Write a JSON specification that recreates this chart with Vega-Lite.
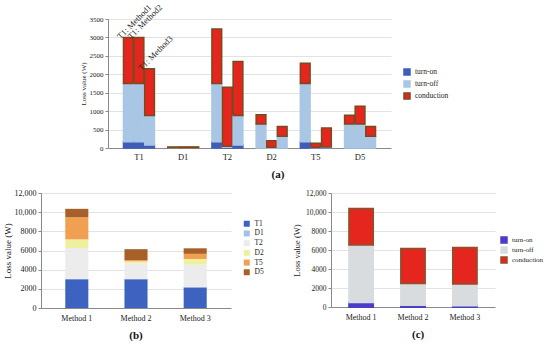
{
  "$schema": "https://vega.github.io/schema/vega-lite/v6.json",
  "padding": {"left": 3, "top": 3, "right": 0, "bottom": 0},
  "datasets": {
    "loss": [
      {"component": "T1", "method": "Method 1", "type": "turn-on", "value": 170},
      {"component": "T1", "method": "Method 1", "type": "turn-off", "value": 1580},
      {"component": "T1", "method": "Method 1", "type": "conduction", "value": 1250},
      {"component": "T1", "method": "Method 2", "type": "turn-on", "value": 170},
      {"component": "T1", "method": "Method 2", "type": "turn-off", "value": 1580},
      {"component": "T1", "method": "Method 2", "type": "conduction", "value": 1250},
      {"component": "T1", "method": "Method 3", "type": "turn-on", "value": 80},
      {"component": "T1", "method": "Method 3", "type": "turn-off", "value": 800},
      {"component": "T1", "method": "Method 3", "type": "conduction", "value": 1270},
      {"component": "D1", "method": "Method 1", "type": "turn-off", "value": 5},
      {"component": "D1", "method": "Method 1", "type": "conduction", "value": 25},
      {"component": "D1", "method": "Method 2", "type": "turn-off", "value": 5},
      {"component": "D1", "method": "Method 2", "type": "conduction", "value": 25},
      {"component": "D1", "method": "Method 3", "type": "turn-off", "value": 5},
      {"component": "D1", "method": "Method 3", "type": "conduction", "value": 25},
      {"component": "T2", "method": "Method 1", "type": "turn-on", "value": 170},
      {"component": "T2", "method": "Method 1", "type": "turn-off", "value": 1580},
      {"component": "T2", "method": "Method 1", "type": "conduction", "value": 1480},
      {"component": "T2", "method": "Method 2", "type": "turn-on", "value": 20},
      {"component": "T2", "method": "Method 2", "type": "turn-off", "value": 30},
      {"component": "T2", "method": "Method 2", "type": "conduction", "value": 1600},
      {"component": "T2", "method": "Method 3", "type": "turn-on", "value": 80},
      {"component": "T2", "method": "Method 3", "type": "turn-off", "value": 800},
      {"component": "T2", "method": "Method 3", "type": "conduction", "value": 1470},
      {"component": "D2", "method": "Method 1", "type": "turn-off", "value": 650},
      {"component": "D2", "method": "Method 1", "type": "conduction", "value": 250},
      {"component": "D2", "method": "Method 2", "type": "turn-off", "value": 20},
      {"component": "D2", "method": "Method 2", "type": "conduction", "value": 180},
      {"component": "D2", "method": "Method 3", "type": "turn-off", "value": 320},
      {"component": "D2", "method": "Method 3", "type": "conduction", "value": 260},
      {"component": "T5", "method": "Method 1", "type": "turn-on", "value": 170},
      {"component": "T5", "method": "Method 1", "type": "turn-off", "value": 1580},
      {"component": "T5", "method": "Method 1", "type": "conduction", "value": 550},
      {"component": "T5", "method": "Method 2", "type": "turn-on", "value": 10},
      {"component": "T5", "method": "Method 2", "type": "turn-off", "value": 10},
      {"component": "T5", "method": "Method 2", "type": "conduction", "value": 110},
      {"component": "T5", "method": "Method 3", "type": "turn-on", "value": 10},
      {"component": "T5", "method": "Method 3", "type": "turn-off", "value": 20},
      {"component": "T5", "method": "Method 3", "type": "conduction", "value": 510},
      {"component": "D5", "method": "Method 1", "type": "turn-off", "value": 650},
      {"component": "D5", "method": "Method 1", "type": "conduction", "value": 240},
      {"component": "D5", "method": "Method 2", "type": "turn-off", "value": 650},
      {"component": "D5", "method": "Method 2", "type": "conduction", "value": 480},
      {"component": "D5", "method": "Method 3", "type": "turn-off", "value": 320},
      {"component": "D5", "method": "Method 3", "type": "conduction", "value": 260}
    ]
  },
  "vconcat": [
    {
      "width": 283,
      "height": 129,
      "data": {"name": "loss"},
      "title": {"text": "(a)", "orient": "bottom", "frame": "bounds", "anchor": "middle", "fontSize": 11, "fontWeight": "bold", "offset": 8},
      "layer": [
        {
          "mark": {"type": "bar", "strokeWidth": 1.5},
          "encoding": {
            "x": {"field": "component", "type": "nominal", "sort": ["T1", "D1", "T2", "D2", "T5", "D5"],
                  "scale": {"paddingInner": 0.3, "paddingOuter": 0.35},
                  "axis": {"title": null, "labelAngle": 0, "ticks": false, "labelFontSize": 8.5, "labelPadding": 4}},
            "xOffset": {"field": "method", "type": "nominal", "sort": ["Method 1", "Method 2", "Method 3"], "scale": {"paddingInner": 0.08}},
            "y": {"field": "value", "type": "quantitative", "stack": "zero", "scale": {"domain": [0, 3500]},
                  "axis": {"values": [0, 500, 1000, 1500, 2000, 2500, 3000, 3500], "format": "d", "labelOverlap": false, "title": "Loss value (W)", "titleFontSize": 7, "labelFontSize": 7, "tickSize": 3, "titlePadding": 3}},
            "color": {"field": "type", "type": "nominal",
                      "scale": {"domain": ["turn-on", "turn-off", "conduction"], "range": ["#3f5cb8", "#a9c7e4", "#e5261e"]},
                      "legend": {"orient": "none", "legendX": 267, "legendY": 21, "padding": 28, "title": null, "labelFontSize": 7.5, "symbolType": "square", "symbolSize": 36, "rowPadding": 0}},
            "stroke": {"field": "type", "type": "nominal",
                       "scale": {"domain": ["turn-on", "turn-off", "conduction"], "range": ["#3f5cb8", "#a9c7e4", "#7a4a1c"]},
                       "legend": {"orient": "none", "legendX": 267, "legendY": 21, "padding": 28, "title": null, "labelFontSize": 7.5, "symbolType": "square", "symbolSize": 36, "rowPadding": 0}},
            "order": {"field": "type", "sort": "descending"}
          }
        },
        {
          "transform": [
            {"filter": "datum.component === 'T1'"},
            {"aggregate": [{"op": "sum", "field": "value", "as": "total"}], "groupby": ["component", "method"]},
            {"calculate": "'T1: ' + replace(datum.method, ' ', '')", "as": "label"}
          ],
          "mark": {"type": "text", "angle": -45, "align": "left", "baseline": "bottom", "dx": -7, "dy": -2, "fontSize": 8.5, "color": "#222"},
          "encoding": {
            "x": {"field": "component", "type": "nominal", "sort": ["T1", "D1", "T2", "D2", "T5", "D5"],
                  "axis": {"title": null, "labelAngle": 0, "ticks": false, "labelFontSize": 8.5, "labelPadding": 4}},
            "xOffset": {"field": "method", "type": "nominal", "sort": ["Method 1", "Method 2", "Method 3"]},
            "y": {"field": "total", "type": "quantitative",
                  "axis": {"values": [0, 500, 1000, 1500, 2000, 2500, 3000, 3500], "format": "d", "labelOverlap": false, "title": "Loss value (W)", "titleFontSize": 7, "labelFontSize": 7, "tickSize": 3, "titlePadding": 3}},
            "text": {"field": "label"}
          }
        }
      ]
    },
    {
      "hconcat": [
        {
          "width": 190,
          "height": 115,
          "data": {"name": "loss"},
          "title": {"text": "(b)", "orient": "bottom", "anchor": "middle", "fontSize": 11, "fontWeight": "bold", "offset": 8},
          "transform": [{"calculate": "indexof(['T1','D1','T2','D2','T5','D5'], datum.component)", "as": "k"}],
          "mark": {"type": "bar"},
          "encoding": {
            "x": {"field": "method", "type": "nominal", "sort": ["Method 1", "Method 2", "Method 3"],
                  "scale": {"paddingInner": 0.61, "paddingOuter": 0.41},
                  "axis": {"title": null, "labelAngle": 0, "ticks": false, "labelFontSize": 8, "labelPadding": 6}},
            "y": {"aggregate": "sum", "field": "value", "type": "quantitative", "scale": {"domain": [0, 12000]},
                  "axis": {"values": [0, 2000, 4000, 6000, 8000, 10000, 12000], "labelExpr": "datum.value >= 10000 ? format(datum.value, ',') : format(datum.value, 'd')",
                           "title": "Loss value (W)", "titleFontSize": 9, "labelFontSize": 8, "tickSize": 3, "titlePadding": 2}},
            "color": {"field": "component", "type": "nominal",
                      "scale": {"domain": ["T1", "D1", "T2", "D2", "T5", "D5"], "range": ["#3d62c0", "#9dc3e6", "#ececec", "#eef0a0", "#f0a050", "#a8602a"]},
                      "legend": {"orient": "none", "legendX": 202, "legendY": 27, "title": null, "labelFontSize": 7.5, "symbolType": "square", "symbolSize": 36, "rowPadding": 0.7, "symbolStrokeWidth": 0}},
            "order": {"field": "k", "type": "quantitative"}
          }
        },
        {
          "width": 164,
          "height": 114,
          "data": {"name": "loss"},
          "title": {"text": "(c)", "orient": "bottom", "frame": "bounds", "anchor": "middle", "fontSize": 11, "fontWeight": "bold", "offset": 8},
          "mark": {"type": "bar", "strokeWidth": 2},
          "encoding": {
            "x": {"field": "method", "type": "nominal", "sort": ["Method 1", "Method 2", "Method 3"],
                  "scale": {"paddingInner": 0.54, "paddingOuter": 0.35},
                  "axis": {"title": null, "labelAngle": 0, "ticks": false, "labelFontSize": 8, "labelPadding": 6}},
            "y": {"aggregate": "sum", "field": "value", "type": "quantitative", "scale": {"domain": [0, 12000]},
                  "axis": {"values": [0, 2000, 4000, 6000, 8000, 10000, 12000], "labelExpr": "datum.value >= 10000 ? format(datum.value, ',') : format(datum.value, 'd')",
                           "title": "Loss value (W)", "titleFontSize": 8.5, "labelFontSize": 7.5, "tickSize": 3, "titlePadding": 4}},
            "color": {"field": "type", "type": "nominal",
                      "scale": {"domain": ["turn-on", "turn-off", "conduction"], "range": ["#4b3dc6", "#d9dcdf", "#e5261e"]},
                      "legend": {"orient": "none", "legendX": 169, "legendY": 43, "title": null, "labelFontSize": 7, "symbolType": "square", "symbolSize": 36, "rowPadding": -3.5}},
            "stroke": {"field": "type", "type": "nominal",
                       "scale": {"domain": ["turn-on", "turn-off", "conduction"], "range": ["#4b3dc6", "#d9dcdf", "#9b4a2a"]},
                       "legend": {"orient": "none", "legendX": 169, "legendY": 43, "title": null, "labelFontSize": 7, "symbolType": "square", "symbolSize": 36, "rowPadding": -3.5}},
            "order": {"field": "type", "sort": "descending"}
          }
        }
      ],
      "spacing": 28,
      "resolve": {"scale": {"color": "independent", "stroke": "independent", "x": "independent", "y": "independent"}, "legend": {"color": "independent", "stroke": "independent"}}
    }
  ],
  "spacing": 9,
  "center": true,
  "resolve": {"scale": {"color": "independent", "stroke": "independent", "x": "independent", "y": "independent"}, "legend": {"color": "independent", "stroke": "independent"}},
  "config": {
    "font": "Liberation Serif",
    "view": {"stroke": null},
    "axis": {"labelColor": "#222", "titleColor": "#222", "gridColor": "#e2e2e2", "domainColor": "#8a8a8a", "tickColor": "#8a8a8a", "titleFontWeight": "normal", "labelFontWeight": "normal"},
    "legend": {"labelColor": "#222"},
    "title": {"color": "#111"}
  }
}
